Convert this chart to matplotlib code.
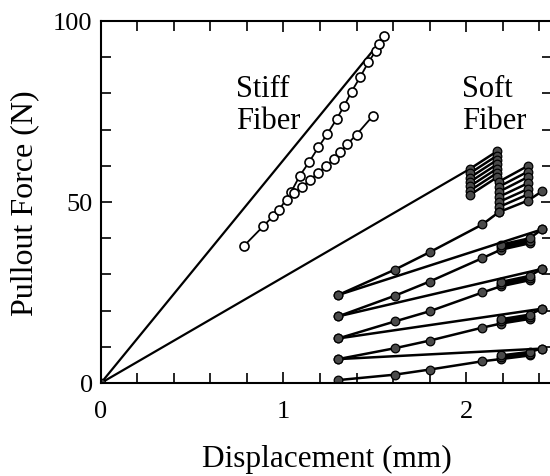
"""Fiber pullout force vs displacement (stiff vs soft fiber)."""

import matplotlib

matplotlib.use("Agg")
import matplotlib.pyplot as plt
from matplotlib.ticker import MultipleLocator

plt.rcParams["font.family"] = ["Liberation Serif", "DejaVu Serif"]

# --- stiff fiber -----------------------------------------------------------
stiff_line_x = [0.0, 1.55]
stiff_line_y = [0.0, 95.5]

stiff_up_x = [0.784, 0.889, 0.941, 0.977, 1.041, 1.090, 1.140, 1.191, 1.240,
              1.291, 1.333, 1.373, 1.419, 1.465, 1.507, 1.525, 1.553]
stiff_up_y = [37.9, 43.3, 46.0, 47.9, 52.7, 57.3, 61.0, 65.1, 68.8,
              72.9, 76.6, 80.5, 84.4, 88.6, 91.8, 93.6, 95.8]

stiff_lo_x = [1.02, 1.06, 1.10, 1.145, 1.19, 1.235, 1.275, 1.31, 1.35, 1.40, 1.49]
stiff_lo_y = [50.5, 52.5, 54.0, 56.2, 58.0, 60.0, 61.8, 63.7, 66.0, 68.6, 73.8]

# --- soft fiber --------------------------------------------------------------
soft_line_x = [0.0, 2.02]
soft_line_y = [0.0, 59.1]

# first block of cycles (serpentine between two x positions)
block1_x = [2.02, 2.17]
block1_left = [59.1, 57.9, 56.7, 55.5, 54.3, 53.1, 51.9]
block1_right = [64.0, 62.8, 61.6, 60.4, 59.2, 58.0, 56.8]

block2_x = [2.18, 2.34]
block2_left = [55.6, 54.2, 52.8, 51.4, 50.0, 48.6, 47.2]
block2_right = [60.0, 58.4, 56.9, 55.2, 53.6, 52.1, 50.4]

# reloading paths, top level first
steep_x = [1.30, 1.61, 1.80, 2.09]
steep_y = [
    [24.3, 31.3, 36.1, 43.8],
    [18.4, 24.1, 28.0, 34.5],
    [12.3, 17.0, 19.8, 25.0],
    [6.6, 9.6, 11.7, 15.3],
    [0.8, 2.3, 3.7, 6.0],
]

# small cycle clusters for levels 2..5
cluster_x = [2.19, 2.35]
cluster_left = [
    [36.8, 37.5, 38.2],
    [26.7, 27.3, 27.9],
    [16.4, 17.0, 17.6],
    [6.6, 7.1, 7.6],
]
cluster_right = [
    [38.6, 39.3, 40.0],
    [28.4, 29.0, 29.6],
    [17.7, 18.3, 18.9],
    [7.6, 8.1, 8.6],
]

peak_x = 2.415
peak_y = [52.9, 42.4, 31.5, 20.5, 9.5]


def serpentine(xs, left, right):
    """Zig-zag path over parallel lines, alternating direction."""
    px, py = [], []
    for i, (yl, yr) in enumerate(zip(left, right)):
        if i % 2 == 0:
            px += [xs[0], xs[1]]
            py += [yl, yr]
        else:
            px += [xs[1], xs[0]]
            py += [yr, yl]
    return px, py


fig = plt.figure(figsize=(5.5, 4.77), dpi=100)
ax = fig.add_axes([0.1836, 0.195, 0.82, 0.759])

lw = 1.6
soft_kw = dict(color="black", lw=1.8, marker="o", ms=6.2,
               mfc="#4a4a4a", mec="black", mew=0.9)

# stiff
ax.plot(stiff_line_x, stiff_line_y, color="black", lw=lw)
ax.plot(stiff_up_x, stiff_up_y, color="black", lw=1.3, marker="o", ms=6.5,
        mfc="white", mec="black", mew=1.2)
ax.plot(stiff_lo_x, stiff_lo_y, color="black", lw=1.3, marker="o", ms=6.5,
        mfc="white", mec="black", mew=1.2)

# soft: initial loading and the two big blocks
b1x, b1y = serpentine(block1_x, block1_left, block1_right)
b2x, b2y = serpentine(block2_x, block2_left, block2_right)
ax.plot(soft_line_x, soft_line_y, color="black", lw=lw)
ax.plot(b1x + b2x + [peak_x], b1y + b2y + [peak_y[0]], **soft_kw)

# first reloading into block 2
ax.plot(steep_x + [block2_x[0]], steep_y[0] + [block2_left[-1]], **soft_kw)

# lower levels: reload, cycles, peak
for k in range(1, 5):
    cx, cy = serpentine(cluster_x, cluster_left[k - 1], cluster_right[k - 1])
    ax.plot(steep_x + cx + [peak_x], steep_y[k] + cy + [peak_y[k]], **soft_kw)

# unloading lines: from each start point to the next peak
for k in range(4):
    ax.plot([steep_x[0], peak_x], [steep_y[k][0], peak_y[k + 1]], **soft_kw)

ax.plot([0], [0], **soft_kw)

ax.text(0.74, 77, "Stiff\nFiber", fontsize=22, ha="left", va="center",
        linespacing=1.15)
ax.text(1.98, 77, "Soft\nFiber", fontsize=22, ha="left", va="center",
        linespacing=1.15)

ax.set_xlim(0, 2.471)
ax.set_ylim(0, 100)
ax.set_xticks([0, 1, 2])
ax.set_yticks([0, 50, 100])
ax.xaxis.set_minor_locator(MultipleLocator(0.2))
ax.yaxis.set_minor_locator(MultipleLocator(10))
ax.tick_params(which="both", direction="in", top=True, right=True,
               width=1.2, labelsize=19)
ax.tick_params(which="major", length=8)
ax.tick_params(which="minor", length=7)
ax.tick_params(axis="x", pad=12)
ax.tick_params(axis="y", pad=6)
for side in ["left", "bottom", "top", "right"]:
    ax.spines[side].set_linewidth(1.5)

ax.set_xlabel("Displacement (mm)", fontsize=22.5, labelpad=16)
ax.set_ylabel("Pullout Force (N)", fontsize=23, labelpad=10)

fig.savefig("out.png", dpi=100)
